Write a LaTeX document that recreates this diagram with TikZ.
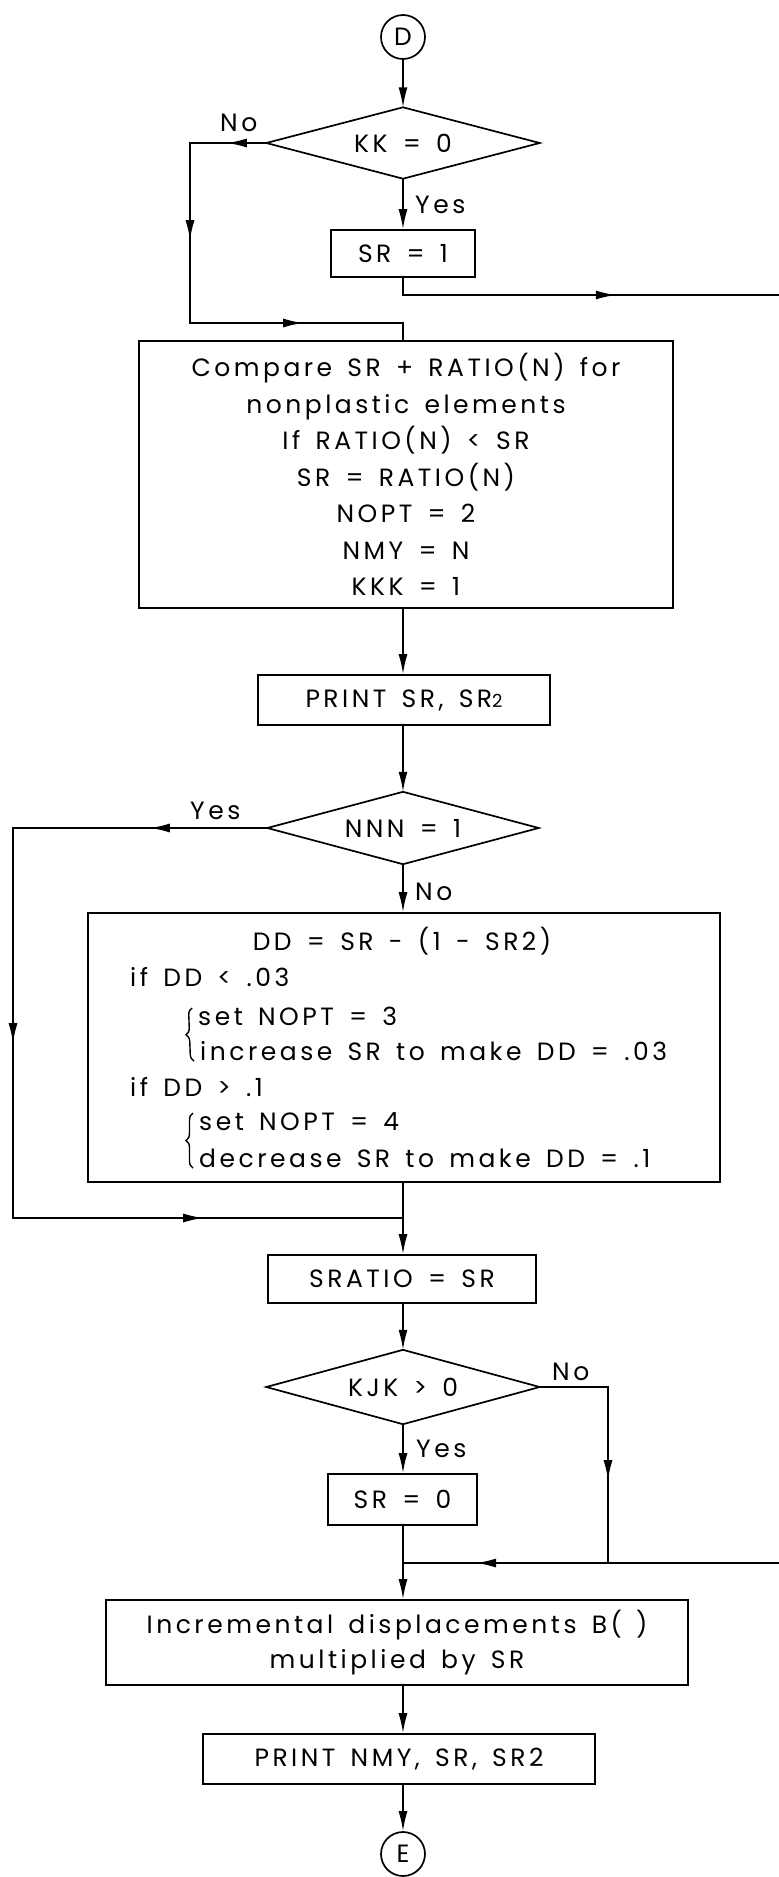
\documentclass[tikz,border=0pt]{standalone}
\usepackage{fontspec}
\newfontfamily\fs{Poppins}[LetterSpace=14,WordSpace=1.5]
\usetikzlibrary{shapes.geometric,arrows.meta,decorations.markings,decorations.pathreplacing,calc}
\tikzset{
  ln/.style={line width=1.7pt},
  box/.style={draw, ln, rectangle, inner sep=0pt, font=\fs\fontsize{25}{36.5}\selectfont},
  diabox/.style={rectangle, inner sep=0pt, font=\fs\fontsize{25}{30}\selectfont},
  conn/.style={draw, ln, circle, inner sep=0pt, minimum size=44pt, font=\fs\fontsize{25}{30}\selectfont},
  txt/.style={inner sep=0pt, text height=17.5pt, text depth=0pt, font=\fs\fontsize{25}{30}\selectfont},
  arr/.style={-{Latex[length=20pt,width=9pt]}},
  tipat/.style={postaction={decorate, decoration={markings, mark=at position #1 with {\arrow{Latex[length=20pt,width=9pt]}}}}},
}
\newcommand{\drawdia}[1]{\draw[ln, line join=miter] (#1.north) -- (#1.east) -- (#1.south) -- (#1.west) -- cycle;}
\begin{document}
\begin{tikzpicture}[x=1pt,y=-1pt]
\useasboundingbox (0,0) rectangle (779,1877);
\coordinate (col) at (403,0);
% nodes
\node[conn] (D) at (403,37) {D};
\node[diabox, minimum width=273pt, minimum height=71pt] (kk) at (403,143) {KK = 0};
\drawdia{kk}
\node[box, minimum width=144pt, minimum height=47pt] (sr1) at (403,253.5) {SR = 1};
\node[box, minimum width=534pt, minimum height=267pt, align=center] (cmp) at (406,474.5)
  {Compare SR + RATIO(N) for\\ nonplastic elements\\ If RATIO(N) < SR\\ SR = RATIO(N)\\ NOPT = 2\\ NMY = N\\ KKK = 1};
\node[box, minimum width=292pt, minimum height=50pt] (psr) at (404,700) {PRINT SR, SR{\fontsize{18}{20}\selectfont 2}};
\node[diabox, minimum width=271pt, minimum height=72pt] (nnn) at (403,828) {NNN = 1};
\drawdia{nnn}
\node[box, minimum width=632pt, minimum height=269pt] (dd) at (404,1047.5) {};
\node[txt] (d1) at (402,942) {DD = SR - (1 - SR2)};
\node[txt, anchor=west] (d2) at (130,978) {if DD < .03};
\node[txt, anchor=west] (d3) at (198,1017) {set NOPT = 3};
\node[txt, anchor=west] (d4) at (200,1052) {increase SR to make DD = .03};
\node[txt, anchor=west] (d5) at (130,1088) {if DD > .1};
\node[txt, anchor=west] (d6) at (199,1122) {set NOPT = 4};
\node[txt, anchor=west] (d7) at (199,1159) {decrease SR to make DD = .1};
\draw[ln, line width=1.4pt, decorate, decoration={brace, amplitude=7pt}] (d4.west) ++(-6,9) coordinate (b1a) -- ($(d3.west)+(-6,-9)$) coordinate (b1b);
\draw[ln, line width=1.4pt, decorate, decoration={brace, amplitude=7pt}] (d7.west) ++(-6,9) coordinate (b2a) -- ($(d6.west)+(-6,-9)$) coordinate (b2b);
\node[box, minimum width=268pt, minimum height=48pt] (srat) at (402,1279) {SRATIO = SR};
\node[diabox, minimum width=273pt, minimum height=74pt] (kjk) at (403,1387) {KJK > 0};
\drawdia{kjk}
\node[box, minimum width=149pt, minimum height=51pt] (sr0) at (402.5,1499.5) {SR = 0};
\node[box, minimum width=582pt, minimum height=85pt, align=center, font=\fs\fontsize{25}{35}\selectfont] (inc) at (397,1642.5)
  {Incremental displacements B(\hspace{14pt})\\ multiplied by SR};
\node[box, minimum width=392pt, minimum height=50pt] (pnmy) at (399,1759) {PRINT NMY, SR, SR2};
\node[conn] (E) at (403,1854) {E};
% labels
\node[txt, anchor=west] (lno1) at (220,123) {No};
\node[txt, anchor=west] (lyes1) at (415,205) {Yes};
\node[txt, anchor=west] (lyes2) at (190,811) {Yes};
\node[txt, anchor=west] (lno2) at (415,892) {No};
\node[txt, anchor=west] (lno3) at (552,1372) {No};
\node[txt, anchor=west] (lyes3) at (416,1449) {Yes};
% coordinates for loops
\coordinate (kL) at (190,143);
\coordinate (kLb) at (190,323);
\coordinate (kJ) at (403,323);
\coordinate (s1c) at (403,295);
\coordinate (s1r) at (779,295);
\coordinate (nL) at (13,828);
\coordinate (nLb) at (13,1218);
\coordinate (nJ) at (403,1218);
\coordinate (kR) at (608,1387);
\coordinate (kRb) at (608,1563);
\coordinate (kEdge) at (779,1563);
\coordinate (kJ2) at (403,1563);
% main flow
\draw[ln,arr] (D) -- (kk.north);
\draw[ln,arr] (kk.south) -- (sr1);
\draw[ln,arr] (cmp.south -| col) -- (psr.north -| col);
\draw[ln,arr] (psr.south -| col) -- (nnn.north);
\draw[ln,arr] (nnn.south) -- (dd.north -| col);
\draw[ln] (dd.south -| col) -- (nJ);
\draw[ln,arr] (nJ) -- (srat.north -| col);
\draw[ln,arr] (srat.south -| col) -- (kjk.north);
\draw[ln,arr] (kjk.south) -- (sr0.north -| col);
\draw[ln] (sr0.south -| col) -- (kJ2);
\draw[ln,arr] (kJ2) -- (inc.north -| col);
\draw[ln,arr] (inc.south -| col) -- (pnmy.north -| col);
\draw[ln,arr] (pnmy.south -| col) -- (E.north);
% loops
\draw[ln, tipat=39.5pt, tipat=173.5pt, tipat=369.5pt] (kk.west) -- (kL) -- (kLb) -- (kJ) -- (cmp.north -| col);
\draw[ln, tipat=230pt] (sr1.south) -- (s1c) -- (s1r);
\draw[ln, tipat=117.5pt, tipat=469.5pt, tipat=834.5pt] (nnn.west) -- (nL) -- (nLb) -- (nJ);
\draw[ln, tipat=161.5pt] (kjk.east) -- (kR) -- (kRb);
\draw[ln, tipat=303pt] (kEdge) -- (kJ2);
\end{tikzpicture}
\end{document}
